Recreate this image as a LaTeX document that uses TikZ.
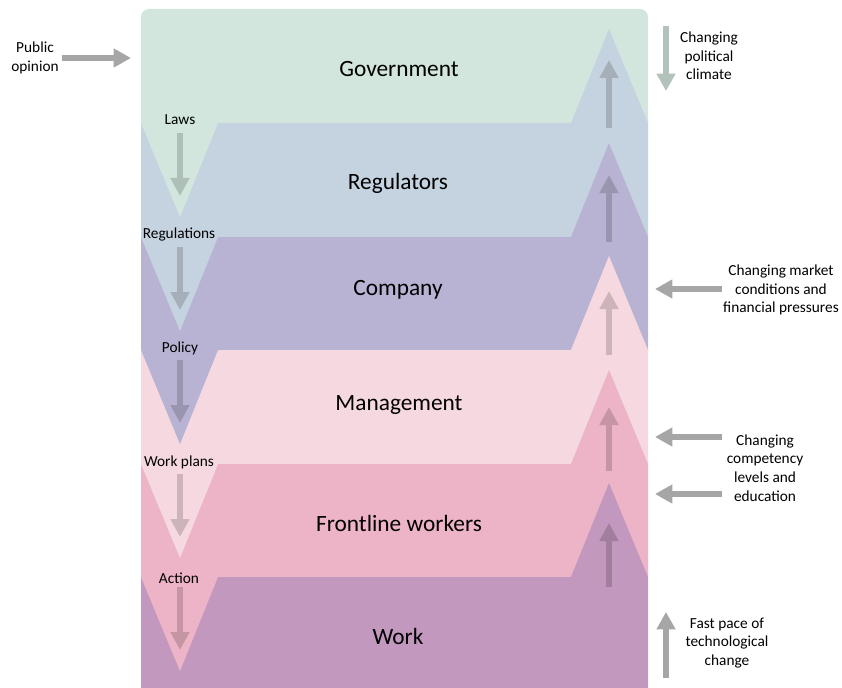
\documentclass[tikz,border=0pt]{standalone}
\usepackage{fontspec}
\setmainfont{Carlito}
\usetikzlibrary{arrows.meta}

\tikzset{every picture/.style={line width=0.75pt}}
\tikzset{
  bandname/.style={font=\fontsize{17.5}{21}\selectfont},
  flowlabel/.style={font=\fontsize{11.5}{14}\selectfont, inner sep=1pt},
  sidelabel/.style={font=\fontsize{11.5}{14}\selectfont, align=center, inner sep=1pt},
  innerarrow/.style={line width=4.5pt, -{Triangle[length=13.5pt,width=13.5pt]}},
  sidearrow/.style={line width=5pt, -{Triangle[length=13pt,width=13.5pt]}, color={rgb, 255:red, 166; green, 166; blue, 166 }},
}

\begin{document}
\begin{tikzpicture}[x=0.75pt,y=0.75pt,yscale=-1,xscale=1]
\useasboundingbox (0,0) rectangle (842,688);

%Shape: Government band
\fill  [color={rgb, 255:red, 210; green, 230; blue, 221 }, rounded corners=6] (141,140) -- (141,9) -- (648,9) -- (648,140) -- cycle ;
%Shape: Regulators band
\fill  [color={rgb, 255:red, 197; green, 211; blue, 224 }] (141,237) -- (141,123) -- (571,123) -- (609,29) -- (648,123) -- (648,237) -- cycle ;
%Shape: Company band
\fill  [color={rgb, 255:red, 185; green, 179; blue, 211 }] (141,350) -- (141,237) -- (571,237) -- (609,143) -- (648,237) -- (648,350) -- cycle ;
%Shape: Management band
\fill  [color={rgb, 255:red, 246; green, 217; blue, 224 }] (141,464) -- (141,350) -- (571,350) -- (609,256) -- (648,350) -- (648,464) -- cycle ;
%Shape: Frontline band
\fill  [color={rgb, 255:red, 237; green, 179; blue, 198 }] (141,577) -- (141,464) -- (571,464) -- (609,370) -- (648,464) -- (648,577) -- cycle ;
%Shape: Work band
\fill  [color={rgb, 255:red, 194; green, 152; blue, 190 }] (141,690) -- (141,577) -- (571,577) -- (609,483) -- (648,577) -- (648,690) -- cycle ;

%Shape: Triangle (down) Government
\fill  [color={rgb, 255:red, 210; green, 230; blue, 221 }] (141,123) -- (180,217) -- (218,123) -- cycle ;
%Shape: Triangle (down) Regulators
\fill  [color={rgb, 255:red, 197; green, 211; blue, 224 }] (141,237) -- (180,331) -- (218,237) -- cycle ;
%Shape: Triangle (down) Company
\fill  [color={rgb, 255:red, 185; green, 179; blue, 211 }] (141,350) -- (180,444) -- (218,350) -- cycle ;
%Shape: Triangle (down) Management
\fill  [color={rgb, 255:red, 246; green, 217; blue, 224 }] (141,464) -- (180,558) -- (218,464) -- cycle ;
%Shape: Triangle (down) Frontline
\fill  [color={rgb, 255:red, 237; green, 179; blue, 198 }] (141,577) -- (180,671) -- (218,577) -- cycle ;

% Arrow ends
\coordinate (lawsS) at (180,133) ;
\coordinate (lawsE) at (180,196) ;
\coordinate (regsS) at (180,247) ;
\coordinate (regsE) at (180,310) ;
\coordinate (polS) at (180,360) ;
\coordinate (polE) at (180,423) ;
\coordinate (planS) at (180,474) ;
\coordinate (planE) at (180,537) ;
\coordinate (actS) at (180,587) ;
\coordinate (actE) at (180,650) ;
\coordinate (upRegS) at (609,128) ;
\coordinate (upRegE) at (609,60) ;
\coordinate (upCompS) at (609,242) ;
\coordinate (upCompE) at (609,175) ;
\coordinate (upMgmtS) at (609,355) ;
\coordinate (upMgmtE) at (609,291) ;
\coordinate (upFrontS) at (609,471) ;
\coordinate (upFrontE) at (609,407) ;
\coordinate (upWorkS) at (609,587) ;
\coordinate (upWorkE) at (609,523) ;

%Straight Lines: down arrows
\draw [innerarrow, color={rgb, 255:red, 174; green, 191; blue, 183 }] (lawsS) -- (lawsE) ;
\draw [innerarrow, color={rgb, 255:red, 164; green, 175; blue, 186 }] (regsS) -- (regsE) ;
\draw [innerarrow, color={rgb, 255:red, 154; green, 149; blue, 175 }] (polS) -- (polE) ;
\draw [innerarrow, color={rgb, 255:red, 204; green, 180; blue, 186 }] (planS) -- (planE) ;
\draw [innerarrow, color={rgb, 255:red, 197; green, 149; blue, 164 }] (actS) -- (actE) ;
%Straight Lines: up arrows
\draw [innerarrow, color={rgb, 255:red, 164; green, 175; blue, 186 }] (upRegS) -- (upRegE) ;
\draw [innerarrow, color={rgb, 255:red, 154; green, 149; blue, 175 }] (upCompS) -- (upCompE) ;
\draw [innerarrow, color={rgb, 255:red, 204; green, 180; blue, 186 }] (upMgmtS) -- (upMgmtE) ;
\draw [innerarrow, color={rgb, 255:red, 197; green, 149; blue, 164 }] (upFrontS) -- (upFrontE) ;
\draw [innerarrow, color={rgb, 255:red, 161; green, 126; blue, 158 }] (upWorkS) -- (upWorkE) ;

% Text Node
\node [bandname] (gov) at (399,69) {Government};
% Text Node
\node [bandname] (reg) at (398,183) {Regulators};
% Text Node
\node [bandname] (comp) at (398,290) {Company};
% Text Node
\node [bandname] (mgmt) at (399,405) {Management};
% Text Node
\node [bandname] (front) at (399,523) {Frontline workers};
% Text Node
\node [bandname] (work) at (398,636) {Work};

% Text Node
\node [flowlabel] (laws) at (180,120) {Laws};
% Text Node
\node [flowlabel] (regs) at (179,234) {Regulations};
% Text Node
\node [flowlabel] (policy) at (180,348) {Policy};
% Text Node
\node [flowlabel] (plans) at (179,462) {Work plans};
% Text Node
\node [flowlabel] (action) at (179,578) {Action};

% Side arrow ends
\coordinate (pubS) at (62,58) ;
\coordinate (pubE) at (131,58) ;
\coordinate (polcS) at (666,26) ;
\coordinate (polcE) at (666,91) ;
\coordinate (mktS) at (722,289) ;
\coordinate (mktE) at (655,289) ;
\coordinate (compaS) at (722,437) ;
\coordinate (compaE) at (655,437) ;
\coordinate (compbS) at (722,494) ;
\coordinate (compbE) at (655,494) ;
\coordinate (techS) at (666,678) ;
\coordinate (techE) at (666,612) ;

%Straight Lines: side arrows
\draw [sidearrow] (pubS) -- (pubE) ;
\draw [sidearrow, color={rgb, 255:red, 178; green, 195; blue, 187 }] (polcS) -- (polcE) ;
\draw [sidearrow] (mktS) -- (mktE) ;
\draw [sidearrow] (compaS) -- (compaE) ;
\draw [sidearrow] (compbS) -- (compbE) ;
\draw [sidearrow] (techS) -- (techE) ;

% Text Node
\node [sidelabel] (pubtext) at (35,58) {Public\\opinion};
% Text Node
\node [sidelabel] (poltext) at (709,56) {Changing\\political\\climate};
% Text Node
\node [sidelabel] (mkttext) at (781,290) {Changing market\\conditions and\\financial pressures};
% Text Node
\node [sidelabel] (comptext) at (765,468) {Changing\\competency\\levels and\\education};
% Text Node
\node [sidelabel] (techtext) at (727,643) {Fast pace of\\technological\\change};

\end{tikzpicture}
\end{document}
